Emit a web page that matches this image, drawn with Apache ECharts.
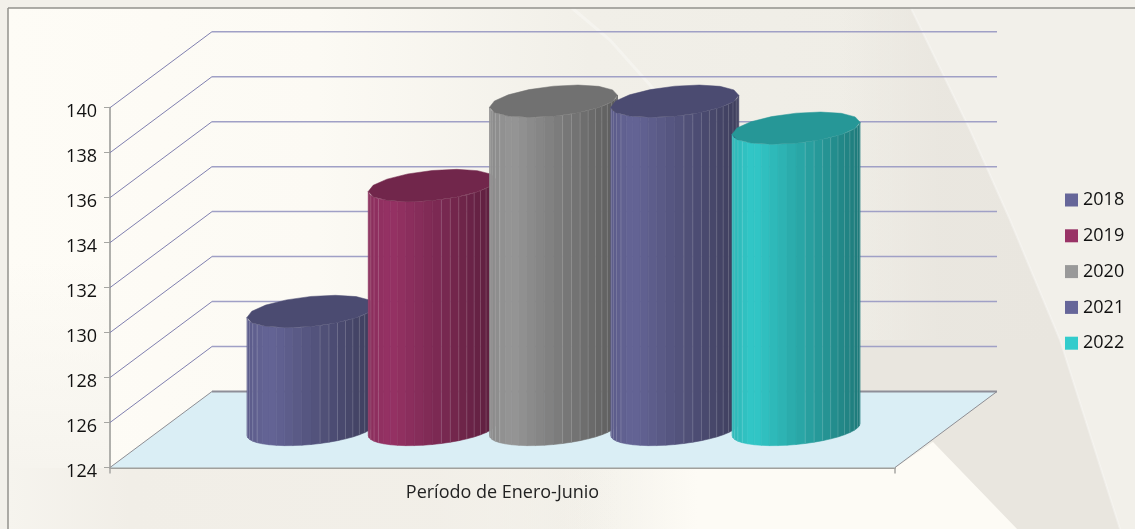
<!DOCTYPE html>
<html><head><meta charset="utf-8">
<style>html,body{margin:0;padding:0;background:#f4f2ec}#c{width:1135px;height:529px}</style>
<script src="https://cdn.jsdelivr.net/npm/echarts@6/dist/echarts.min.js"></script>
</head><body><div id="c"></div>
<script>
const categories = ['Período de Enero-Junio'];
const years = ['2018','2019','2020','2021','2022'];
const values2018 = [129.25];
const values2019 = [134.85];
const values2020 = [138.6];
const values2021 = [138.6];
const values2022 = [137.4];
const yTicks = [124,126,128,130,132,134,136,138,140];
const colors = ['#666699','#993366','#999999','#666699','#33CCCC'];
const allValues = [values2018,values2019,values2020,values2021,values2022];

const DEPTH_X = 102, DEPTH_Y = 76;
const MID = 0.5;
const STEP = 0.1545, RX = 0.0815, RY = 15, SKEW = 6, FACETS = 22;

function mix(hex, k){
  const n = parseInt(hex.slice(1),16);
  const c = [(n>>16)&255,(n>>8)&255,n&255].map(v=>Math.round(Math.min(255,v*k)));
  return 'rgb('+c.join(',')+')';
}
function shade(u){
  if(u<0.17) return 0.9+0.08*u/0.17;
  return 0.98-0.38*(u-0.17)/0.83;
}
function wallItem(params, api){
  const v = api.value(0);
  const g = params.coordSys;
  const y = api.coord([0,v])[1];
  const x0 = g.x, x1 = g.x+g.width;
  const children = [];
  const edge = v===yTicks[0];
  if(edge){
    children.push({type:'polygon',shape:{points:[[x0,y],[x1,y],[x1+DEPTH_X,y-DEPTH_Y],[x0+DEPTH_X,y-DEPTH_Y]]},
      style:{fill:'#daeef5',stroke:'none'}});
  }
  const lineCol = edge?'#8e8e94':'#8080b0';
  children.push({type:'line',shape:{x1:x0,y1:y,x2:x0+DEPTH_X,y2:y-DEPTH_Y},style:{stroke:lineCol,lineWidth:1}});
  children.push({type:'line',shape:{x1:x0+DEPTH_X,y1:y-DEPTH_Y,x2:x1+DEPTH_X,y2:y-DEPTH_Y},
    style:{stroke:edge?'#8e8e98':'#a0a0c6',lineWidth:edge?2:1.5}});
  if(edge){
    children.push({type:'line',shape:{x1:x1,y1:y,x2:x1+DEPTH_X,y2:y-DEPTH_Y},style:{stroke:lineCol,lineWidth:1}});
  }
  return {type:'group',children};
}
function cylinderItem(idx){
  return function(params, api){
    const val = api.value(1);
    const band = api.size([1,0])[0];
    const front = api.coord([0,val]);
    const base = api.coord([0,yTicks[0]]);
    const cx = front[0] + (idx-2)*STEP*band + DEPTH_X*MID;
    const cyTop = front[1] - DEPTH_Y*MID;
    const cyBot = base[1] - DEPTH_Y*MID;
    const rx = RX*band;
    const pt = (t,cy)=>[cx+rx*Math.cos(t), cy+RY*Math.sin(t)-SKEW*Math.cos(t)];
    const col = colors[idx];
    const children = [];
    for(let i=0;i<FACETS;i++){
      const a = Math.PI-Math.PI*i/FACETS, b = Math.PI-Math.PI*(i+1)/FACETS;
      const u = (1-Math.cos((Math.PI*i+Math.PI/2)/FACETS))/2;
      const c = mix(col, shade(u));
      children.push({type:'polygon',shape:{points:[pt(a,cyTop),pt(b,cyTop),pt(b,cyBot),pt(a,cyBot)]},
        style:{fill:c,stroke:c,lineWidth:0.6}});
    }
    for(let i=1;i<FACETS;i++){
      if(i>4 && i<12) continue;
      const a = Math.PI-Math.PI*i/FACETS;
      const p=pt(a,cyTop), q=pt(a,cyBot);
      children.push({type:'line',shape:{x1:p[0],y1:p[1],x2:q[0],y2:q[1]},
        style:{stroke:'rgba(255,255,255,0.16)',lineWidth:1}});
    }
    const pts=[];
    for(let i=0;i<16;i++){ pts.push(pt(2*Math.PI*i/16,cyTop)); }
    children.push({type:'polygon',shape:{points:pts},style:{fill:mix(col,0.74),stroke:mix(col,0.74),lineWidth:0.5}});
    return {type:'group',children};
  };
}
const chart = echarts.init(document.getElementById('c'));
const series = [{
  type:'custom',name:'walls',silent:true,z:1,clip:false,
  encode:{y:0},
  data:yTicks.map(v=>[v]),
  renderItem:wallItem
}];
years.forEach((y,i)=>{
  series.push({type:'custom',name:y,silent:true,z:3+i,clip:false,
    itemStyle:{color:colors[i]},
    encode:{x:0,y:1},
    data:allValues[i].map((v,k)=>[k,v]),
    renderItem:cylinderItem(i)});
});
const W=1135,H=529;
const hGrad=(stops)=>({type:'linear',x:0,y:0,x2:1,y2:0,colorStops:stops.map(s=>({offset:s[0],color:s[1]}))});
const vGrad=(stops)=>({type:'linear',x:0,y:0,x2:0,y2:1,colorStops:stops.map(s=>({offset:s[0],color:s[1]}))});
chart.setOption({
  animation:false,
  backgroundColor:hGrad([[0,'#fefcf6'],[0.28,'#fcfaf4'],[0.52,'#f1efe8'],[1,'#eeece5']]),
  graphic:[
    {type:'polygon',z:-9,silent:true,shape:{points:[[907,0],[970,130],[1010,220],[1060,340],[1120,529],[W,529],[W,0]]},style:{fill:'#f2f0ea'}},
    {type:'polygon',z:-8,silent:true,shape:{points:[[840,0],[907,0],[970,130],[1010,220],[1060,340],[840,340]]},style:{fill:hGrad([[0,'rgba(233,230,223,0)'],[0.45,'rgba(233,230,223,0.9)'],[1,'rgba(233,230,223,1)']])}},
    {type:'polygon',z:-8,silent:true,shape:{points:[[840,340],[1060,340],[1120,529],[1017,529],[933,442],[840,420]]},style:{fill:'#e9e6df'}},
    {type:'polygon',z:-7,silent:true,shape:{points:[[560,468],[895,468],[933,442],[1017,529],[560,529]]},style:{fill:hGrad([[0,'rgba(253,251,245,0)'],[0.3,'rgba(253,251,245,1)'],[1,'rgba(253,251,245,1)'] ])}},
    {type:'polygon',z:-7,silent:true,shape:{points:[[8,468],[620,468],[620,529],[8,529]]},style:{fill:hGrad([[0,'rgba(246,244,238,1)'],[0.2,'rgba(241,238,231,1)'],[0.7,'rgba(241,238,231,0.9)'],[1,'rgba(241,238,231,0)']])}},
    {type:'polygon',z:-7,silent:true,shape:{points:[[8,260],[110,260],[110,468],[8,468]]},style:{fill:vGrad([[0,'rgba(246,244,238,0)'],[1,'rgba(246,244,238,1)']])}},
    {type:'polyline',z:-6,silent:true,shape:{points:[[907,0],[970,130],[1010,220],[1060,340],[1120,529]]},style:{stroke:'rgba(255,255,255,0.3)',fill:'none',lineWidth:2}},
    {type:'polyline',z:-6,silent:true,shape:{points:[[572,8],[610,40],[650,85],[672,112]]},style:{stroke:'rgba(255,255,255,0.3)',fill:'none',lineWidth:3}},
    {type:'polygon',z:-5,silent:true,shape:{points:[[0,0],[W,0],[W,8],[8,8],[8,H],[0,H]]},style:{fill:'#f2f0ea'}},
    {type:'line',z:-2,silent:true,shape:{x1:8,y1:8,x2:W,y2:8},style:{stroke:'#92928c',lineWidth:1.5}},
    {type:'line',z:-2,silent:true,shape:{x1:8,y1:8,x2:8,y2:H},style:{stroke:'#92928c',lineWidth:1.5}}
  ],
  grid:{left:110,top:107.7,width:785,height:359.8,containLabel:false},
  legend:{
    data:years,orient:'vertical',left:1065,top:191,padding:0,itemWidth:13,itemHeight:13,itemGap:17.8,
    icon:'rect',selectedMode:false,
    textStyle:{fontFamily:'Open Sans',fontSize:18,color:'#111'}
  },
  xAxis:{type:'category',data:categories,
    axisLine:{lineStyle:{color:'#a0a09c',width:2}},
    axisTick:{show:true,alignWithLabel:false,length:6,lineStyle:{color:'#a6a6a2',width:1.5}},
    axisLabel:{fontFamily:'Open Sans',fontSize:18,color:'#222',margin:16}},
  yAxis:{type:'value',min:124,max:140,interval:2,
    axisLine:{show:true,lineStyle:{color:'#b0b0ac',width:2}},
    axisTick:{show:true,length:6,lineStyle:{color:'#a6a6a2',width:1}},
    axisLabel:{fontFamily:'Open Sans',fontSize:18,color:'#111',margin:13,verticalAlign:'top',lineHeight:8},
    splitLine:{show:false}},
  series
});
</script></body></html>
